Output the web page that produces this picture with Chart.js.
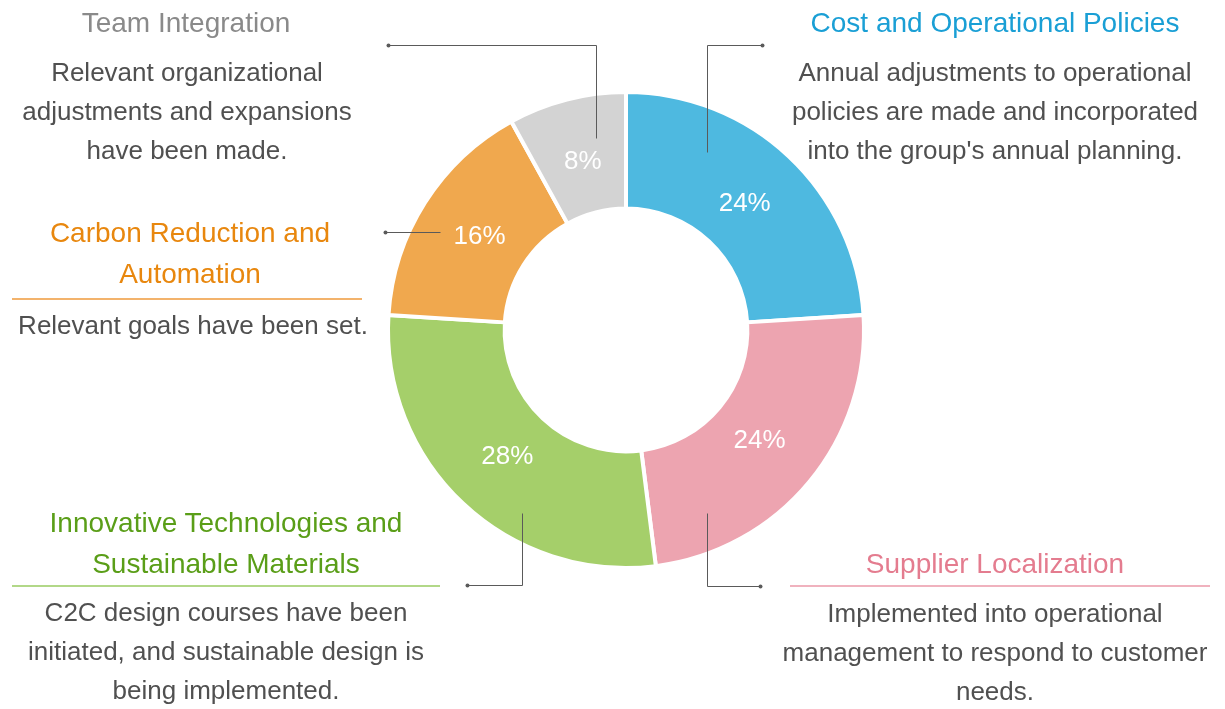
<!DOCTYPE html>
<html>
<head>
<meta charset="utf-8">
<script src="https://cdn.jsdelivr.net/npm/chart.js@4.4.1/dist/chart.umd.min.js"></script>
<style>
  html, body { margin: 0; padding: 0; background: #ffffff; }
  #wrap { position: relative; width: 1225px; height: 709px; overflow: hidden; font-family: "Liberation Sans", Arial, sans-serif; }
  #wrap canvas { position: absolute; left: 0; top: 0; }
  .blk { position: absolute; text-align: center; white-space: nowrap; transform: translateX(-50%); }
  .ttl { font-size: 28px; line-height: 41px; }
  .body { font-size: 26px; line-height: 39px; color: #505050; }
  .rule { position: absolute; height: 2px; }
</style>
</head>
<body>
<div id="wrap">
  <canvas id="c"></canvas>

  <div class="blk ttl" style="left:186px;top:2px;color:#8a8a8a;">Team Integration</div>
  <div class="blk body" style="left:187px;top:53px;">Relevant organizational<br>adjustments and expansions<br>have been made.</div>

  <div class="blk ttl" style="left:995px;top:2px;color:#1a9fd5;">Cost and Operational Policies</div>
  <div class="blk body" style="left:995px;top:53px;">Annual adjustments to operational<br>policies are made and incorporated<br>into the group's annual planning.</div>

  <div class="blk ttl" style="left:190px;top:212px;color:#e8870e;">Carbon Reduction and<br>Automation</div>
  <div class="rule" style="left:12px;width:350px;top:298px;background:#f3b36c;"></div>
  <div class="blk body" style="left:193px;top:306px;">Relevant goals have been set.</div>

  <div class="blk ttl" style="left:226px;top:502px;color:#5a9e18;">Innovative Technologies and<br>Sustainable Materials</div>
  <div class="rule" style="left:12px;width:428px;top:585px;background:#b2d888;"></div>
  <div class="blk body" style="left:226px;top:593px;">C2C design courses have been<br>initiated, and sustainable design is<br>being implemented.</div>

  <div class="blk ttl" style="left:995px;top:543px;color:#e47c8f;">Supplier Localization</div>
  <div class="rule" style="left:790px;width:420px;top:585px;background:#f0b2be;"></div>
  <div class="blk body" style="left:995px;top:594px;">Implemented into operational<br>management to respond to customer<br>needs.</div>
</div>
<script>
// ---- data ----
const categories = ["Cost and Operational Policies", "Supplier Localization", "Innovative Technologies and Sustainable Materials", "Carbon Reduction and Automation", "Team Integration"];
const shares = [24, 24, 28, 16, 8];
const sliceColors = ["#4eb9e0", "#eda4b0", "#a5cf6a", "#f0a84e", "#d3d3d3"];

// leader lines (annotation paths, page coordinates)
const leaders = [
  [[707, 152], [707, 45], [762, 45]],
  [[707, 513], [707, 586], [760, 586]],
  [[522, 513], [522, 585], [467, 585]],
  [[440, 232], [385, 232]],
  [[596, 138], [596, 45], [388, 45]]
];

const labelPlugin = {
  id: 'pctLabels',
  afterDatasetsDraw(chart) {
    const ctx = chart.ctx;
    const meta = chart.getDatasetMeta(0);
    ctx.save();
    ctx.fillStyle = '#ffffff';
    ctx.font = '26px "Liberation Sans", Arial, sans-serif';
    ctx.textAlign = 'center';
    ctx.textBaseline = 'middle';
    meta.data.forEach((arc, i) => {
      const mid = (arc.startAngle + arc.endAngle) / 2;
      const r = (arc.innerRadius + arc.outerRadius) / 2 * 0.965;
      ctx.fillText(shares[i] + '%', arc.x + Math.cos(mid) * r, arc.y + Math.sin(mid) * r);
    });
    // leader lines
    ctx.strokeStyle = '#5a5a5a';
    ctx.fillStyle = '#5a5a5a';
    ctx.lineWidth = 1;
    leaders.forEach(path => {
      ctx.beginPath();
      path.forEach((pt, k) => {
        const x = Math.round(pt[0]) + 0.5, y = Math.round(pt[1]) + 0.5;
        if (k === 0) ctx.moveTo(x, y); else ctx.lineTo(x, y);
      });
      ctx.stroke();
      const end = path[path.length - 1];
      ctx.beginPath();
      ctx.arc(end[0] + 0.5, end[1] + 0.5, 2, 0, Math.PI * 2);
      ctx.fill();
    });
    ctx.restore();
  }
};

new Chart(document.getElementById('c'), {
  type: 'doughnut',
  data: {
    labels: categories,
    datasets: [{
      data: shares,
      backgroundColor: sliceColors,
      borderColor: '#ffffff',
      borderWidth: 4,
      hoverOffset: 0
    }]
  },
  options: {
    responsive: true,
    maintainAspectRatio: false,
    animation: false,
    radius: 238,
    cutout: '51%',
    layout: { padding: { left: 27, right: 0, top: 0, bottom: 49 } },
    plugins: { legend: { display: false }, tooltip: { enabled: false } }
  },
  plugins: [labelPlugin]
});
</script>
</body>
</html>
